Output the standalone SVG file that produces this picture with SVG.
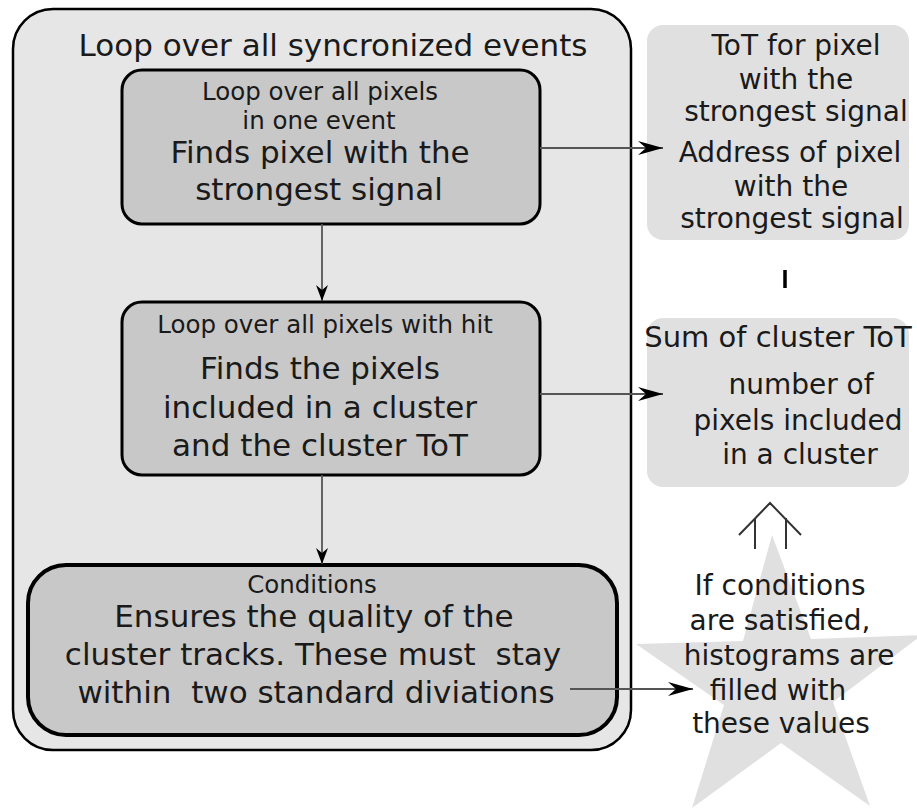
<svg xmlns="http://www.w3.org/2000/svg" width="917" height="810" viewBox="0 0 917 810">
<style>
text{font-family:"DejaVu Sans","Liberation Sans",sans-serif;fill:#1a1a1a;text-anchor:middle}
.outer{fill:#e6e6e6;stroke:#000;stroke-width:2.5}
.inner{fill:#c8c8c8;stroke:#000;stroke-width:3}
.res{fill:#e0e0e0;stroke:none}
.conn{stroke:#555;stroke-width:1.8;fill:none}
.s25{font-size:24.5px}
.s31{font-size:31px}
.s28{font-size:28px}
</style>
<defs>
<marker id="ah" markerUnits="userSpaceOnUse" markerWidth="30" markerHeight="20" refX="25" refY="8" orient="auto" viewBox="0 0 30 16">
<path d="M25,8 L0,1 L8,8 L0,15 Z" fill="#000"/>
</marker>
<marker id="ahs" markerUnits="userSpaceOnUse" markerWidth="20" markerHeight="16" refX="16" refY="6.5" orient="auto" viewBox="0 0 20 13">
<path d="M16,6.5 L0,0.5 L5,6.5 L0,12.5 Z" fill="#000"/>
</marker>
</defs>
<rect width="917" height="810" fill="#fff"/>

<g id="outer-loop">
<rect class="outer" x="13" y="9" width="618" height="741" rx="40"/>
<text class="s31" x="333" y="56">Loop over all syncronized events</text>
</g>

<g id="star-node">
<polygon points="772,535 811,639 922,635 833,702 870,806 781,743 692,808 724,705 636,644 743,641" fill="#e0e0e0"/>
<text class="s28" x="780" y="595">If conditions</text>
<text class="s28" x="780" y="630">are satisfied,</text>
<text class="s28" x="789" y="665">histograms are</text>
<text class="s28" x="778" y="700">filled with</text>
<text class="s28" x="781" y="733">these values</text>
</g>

<g id="box-strongest">
<rect class="inner" x="122" y="70" width="418" height="154" rx="20"/>
<text class="s25" x="320" y="100">Loop over all pixels</text>
<text class="s25" x="319" y="129">in one event</text>
<text class="s31" x="320" y="163">Finds pixel with the</text>
<text class="s31" x="319" y="200">strongest signal</text>
</g>

<g id="box-cluster">
<rect class="inner" x="122" y="302" width="418" height="173" rx="20"/>
<text class="s25" x="325" y="333">Loop over all pixels with hit</text>
<text class="s31" x="320" y="379">Finds the pixels</text>
<text class="s31" x="320" y="418">included in a cluster</text>
<text class="s31" x="320" y="456">and the cluster ToT</text>
</g>

<g id="box-conditions">
<rect x="28" y="565" width="589" height="170" rx="38" fill="#c8c8c8" stroke="#000" stroke-width="4"/>
<text class="s25" x="312" y="593">Conditions</text>
<text class="s31" x="314" y="627">Ensures the quality of the</text>
<text class="s31" x="313" y="665" xml:space="preserve">cluster tracks. These must  stay</text>
<text class="s31" x="316" y="703" xml:space="preserve">within  two standard diviations</text>
</g>

<g id="result-pixel">
<rect class="res" x="647" y="25" width="262" height="215" rx="16"/>
<text class="s28" x="796" y="55">ToT for pixel</text>
<text class="s28" x="796" y="89">with the</text>
<text class="s28" x="796" y="121">strongest signal</text>
<text class="s28" x="790" y="162">Address of pixel</text>
<text class="s28" x="791" y="196">with the</text>
<text class="s28" x="792" y="228">strongest signal</text>
</g>

<g id="result-cluster">
<rect class="res" x="647" y="318" width="262" height="169" rx="16"/>
<text x="778" y="347" style="font-size:29px">Sum of cluster ToT</text>
<text class="s28" x="801" y="394">number of</text>
<text class="s28" x="798" y="430">pixels included</text>
<text class="s28" x="800" y="464">in a cluster</text>
</g>

<g id="connectors">
<line class="conn" x1="540" y1="148" x2="663" y2="148" marker-end="url(#ah)"/>
<line class="conn" x1="540" y1="394" x2="663" y2="394" marker-end="url(#ah)"/>
<line class="conn" x1="570" y1="689" x2="693" y2="689" marker-end="url(#ah)"/>
<line class="conn" x1="322" y1="224" x2="322" y2="301" marker-end="url(#ahs)"/>
<line class="conn" x1="322" y1="475" x2="322" y2="564" marker-end="url(#ahs)"/>
<line x1="785" y1="270" x2="785" y2="288" stroke="#000" stroke-width="3.5"/>
<path d="M739,535 L770,503 L801,535 M755,518 V549 M786,518 V549" fill="none" stroke="#333" stroke-width="2"/>
</g>
</svg>
